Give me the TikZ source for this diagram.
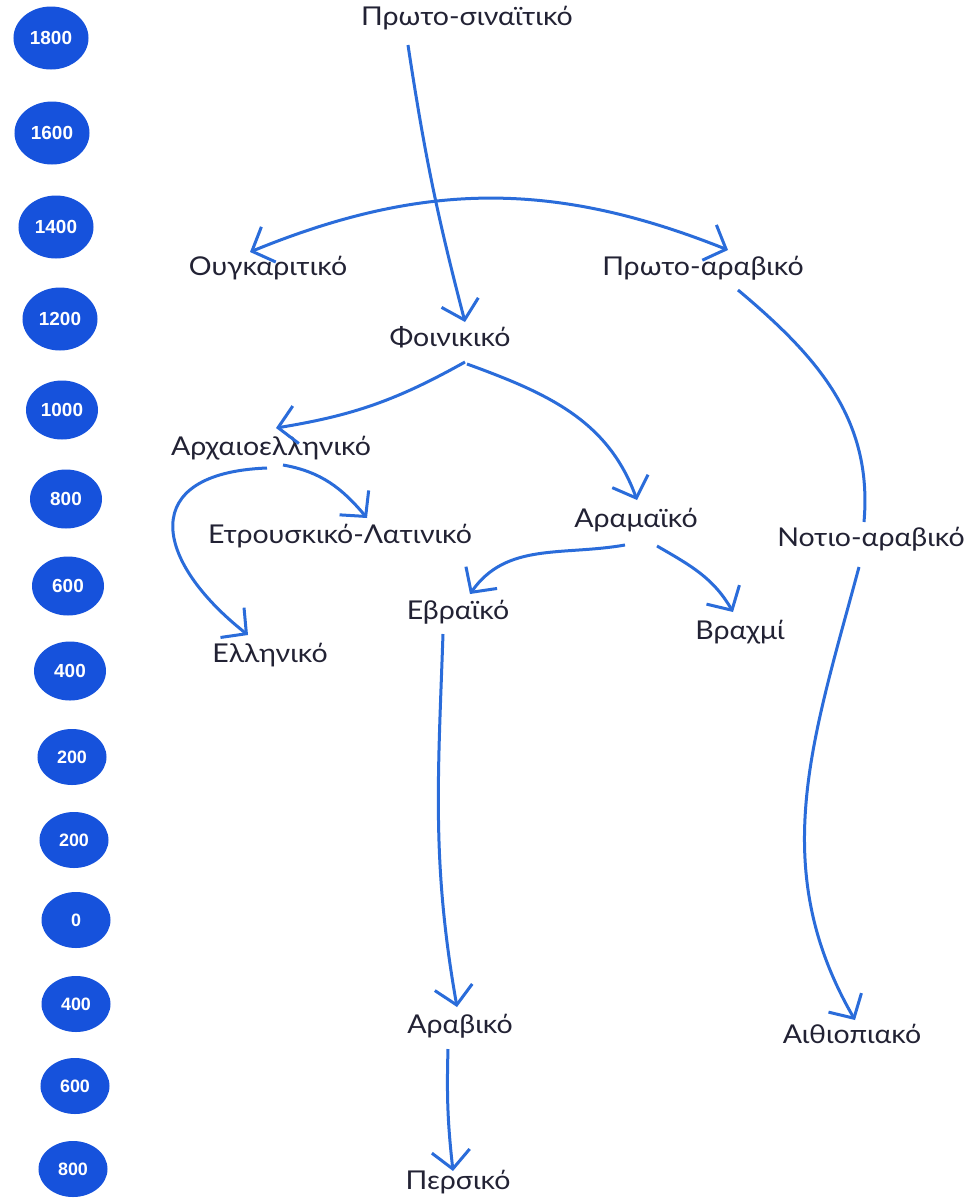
\documentclass[tikz,border=0pt]{standalone}
\usepackage{fontspec}
\setmainfont{Lato}[FakeStretch=1.1]
\newfontfamily\erafont{Liberation Sans}
\usetikzlibrary{shapes.geometric, arrows.meta, calc}
\definecolor{eraBlue}{RGB}{22,82,220}
\definecolor{linkBlue}{RGB}{42,108,218}
\definecolor{ink}{RGB}{34,34,52}
\tikzset{
    barb/.tip      = {Straight Barb[length=18bp, width=38bp]},
    era/.style     = {ellipse, fill=eraBlue, text=white, inner sep=0pt, minimum width=75bp, minimum height=63bp, font=\erafont\bfseries\fontsize{19}{19}\selectfont},
    mid era/.style = {era, minimum width=72bp, minimum height=59bp},
    small era/.style = {era, minimum width=69bp, minimum height=56bp, font=\erafont\bfseries\fontsize{18}{18}\selectfont},
    script/.style  = {inner sep=0pt, text height=0.7em, text depth=0pt, text=ink, font=\fontsize{26}{26}\selectfont},
    link/.style    = {draw=linkBlue, line width=3bp, -barb},
}
\begin{document}
\begin{tikzpicture}[x=1bp, y=-1bp]
  \path [use as bounding box, fill=white] (0,0) rectangle (971,1200);
  % time scale
  \node [name=e1, era] at (51,38) {1800};
  \node [name=e2, era] at (52,133) {1600};
  \node [name=e3, era] at (56,227) {1400};
  \node [name=e4, era] at (60,319) {1200};
  \node [name=e5, mid era] at (62,410) {1000};
  \node [name=e6, mid era] at (66,499) {800};
  \node [name=e7, mid era] at (68,586) {600};
  \node [name=e8, mid era] at (70,671) {400};
  \node [name=e9, small era] at (72,757) {200};
  \node [name=e10, small era] at (74,840) {200};
  \node [name=e11, small era] at (76,920) {0};
  \node [name=e12, small era] at (76,1004) {400};
  \node [name=e13, small era] at (75,1086) {600};
  \node [name=e14, small era] at (73,1169) {800};
  % scripts
  \node [name=sinai, script] at (467,22) {Πρωτο-σιναϊτικό};
  \node [name=ugar, script] at (268,272) {Ουγκαριτικό};
  \node [name=protoar, script] at (703,272) {Πρωτο-αραβικό};
  \node [name=phoen, script] at (450,343) {Φοινικικό};
  \node [name=archgr, script] at (271,452) {Αρχαιοελληνικό};
  \node [name=etrus, script] at (340,540) {Ετρουσκικό-Λατινικό};
  \node [name=aram, script] at (636,524) {Αραμαϊκό};
  \node [name=sarab, script] at (871,543) {Νοτιο-αραβικό};
  \node [name=hebr, script] at (458,616) {Εβραϊκό};
  \node [name=brahmi, script] at (740,636) {Βραχμί};
  \node [name=greek, script] at (270,659) {Ελληνικό};
  \node [name=arab, script] at (460,1030) {Αραβικό};
  \node [name=ethiop, script] at (852,1040) {Αιθιοπιακό};
  \node [name=pers, script] at (458,1186) {Περσικό};
  % descent
  \draw [link] ($(sinai)+(-59,23)$) to [bend right=3] ($(phoen)+(15,-21)$);
  \draw [link, barb-barb] ($(ugar)+(-18,-20)$) to [bend left=22] ($(protoar)+(25,-22)$);
  \draw [link, -] ($(protoar)+(35,18)$) to [out=-40, in=85] ($(sarab)+(-7,-21)$);
  \draw [link] ($(sarab)+(-12,24)$) to [out=-105, in=120] ($(ethiop)+(3,-20)$);
  \draw [link] ($(phoen)+(15,19)$) to [bend left=10] ($(archgr)+(5,-24)$);
  \draw [link] ($(phoen)+(17,21)$) to [out=-20, in=110] ($(aram)+(1,-24)$);
  \draw [link] ($(archgr)+(12,13)$) to [out=-10, in=130] ($(etrus)+(27,-22)$);
  \draw [link] ($(archgr)+(-4,16)$) .. controls +(-130,5) and +(-95,-75) .. ($(greek)+(-22,-24)$);
  \draw [link] ($(aram)+(-11,21)$) to [out=190, in=55] ($(hebr)+(12,-22)$);
  \draw [link] ($(aram)+(21,22)$) to [out=-30, in=120] ($(brahmi)+(-7,-24)$);
  \draw [link] ($(hebr)+(-15,18)$) to [out=-92, in=100] ($(arab)+(-3,-23)$);
  \draw [link] ($(arab)+(-12,19)$) to [bend right=4] ($(pers)+(-5,-15)$);
\end{tikzpicture}
\end{document}
